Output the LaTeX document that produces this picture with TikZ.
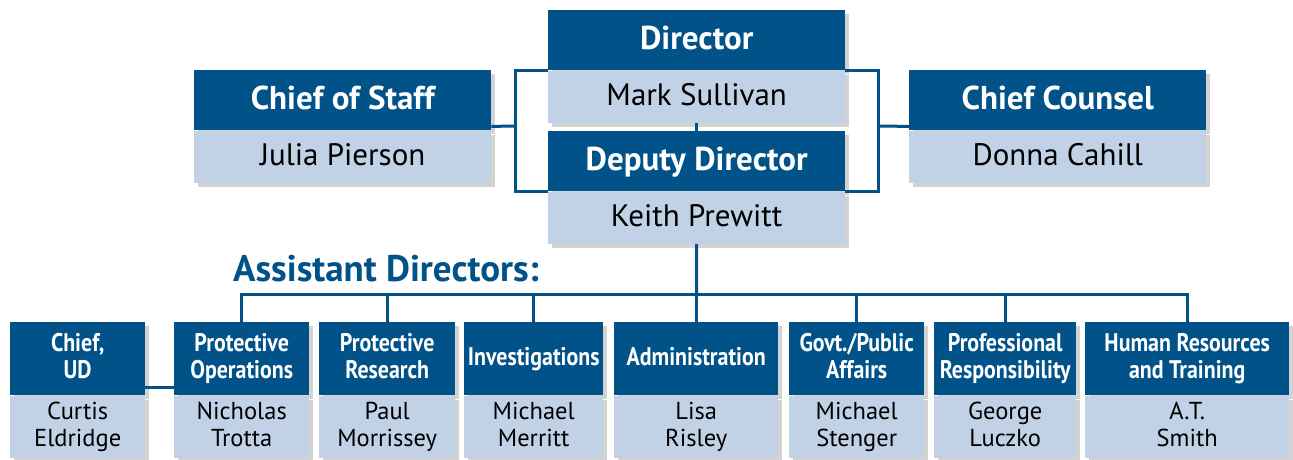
\documentclass[tikz,border=0pt]{standalone}
\usepackage{fontspec}
\setmainfont{PT Sans}
\newfontfamily\narrowfont[FakeStretch=0.86]{PT Sans}
\usetikzlibrary{shadows}
\definecolor{hdblue}{RGB}{0,82,136}
\definecolor{nmblue}{RGB}{194,210,230}
\newcommand{\boxstrut}{\rule[-0.18\baselineskip]{0pt}{0.9\baselineskip}}

\begin{document}
\begin{tikzpicture}[x=1pt,y=-1pt,
  boxshadow/.style={drop shadow={shadow xshift=4pt,shadow yshift=-4pt,opacity=0.35}},
  boxtext/.style={inner sep=0pt,align=center,anchor=north west,
    execute at begin node=\boxstrut,execute at end node=\boxstrut,boxshadow},
  tophead/.style={boxtext,fill=hdblue,text=white,
    minimum width=297pt,minimum height=60pt,font=\bfseries\fontsize{33}{36}\selectfont},
  topname/.style={boxtext,fill=nmblue,text=black,
    minimum width=297pt,minimum height=52pt,font=\fontsize{31}{34}\selectfont},
  adhead/.style={boxtext,fill=hdblue,text=white,
    minimum height=73pt,font=\narrowfont\bfseries\fontsize{25.5}{27}\selectfont},
  adname/.style={boxtext,fill=nmblue,text=black,
    minimum height=62pt,font=\fontsize{24.5}{27}\selectfont},
  link/.style={draw=hdblue,line width=3pt}]
\useasboundingbox (0,0) rectangle (1293,459);

% top tier
\node[tophead] (dirh) at (548,10) {Director};
\node[topname] (dir) at (dirh.south west) {Mark Sullivan};
\node[tophead] (deph) at (548,131) {Deputy Director};
\node[topname] (dep) at (deph.south west) {Keith Prewitt};
\node[tophead] (cosh) at (194,70) {Chief of Staff};
\node[topname] (cos) at (cosh.south west) {Julia Pierson};
\node[tophead] (cch) at (909,70) {Chief Counsel};
\node[topname] (cc) at (cch.south west) {Donna Cahill};

\coordinate (lbr) at (515,126);
\coordinate (rbr) at (878,126);
\draw[link] (dir.south) -- (deph.north);
\draw[link] (dirh.south west) -| (lbr) |- (deph.south west);
\draw[link] (dirh.south east) -| (rbr) |- (deph.south east);
\draw[link] ([yshift=4pt]cosh.south east) -- (lbr);
\draw[link] (rbr) -- ([yshift=4pt]cch.south west);

\node[anchor=base west,text=hdblue,inner sep=0pt,font=\bfseries\fontsize{37}{40}\selectfont] (adlabel) at (233,281) {Assistant Directors:};

% assistant directors
\node[adhead,minimum width=135pt] (udh) at (10,322) {Chief,\\UD};
\node[adname,minimum width=135pt] (ud) at (udh.south west) {Curtis\\Eldridge};
\node[adhead,minimum width=135pt] (poh) at (174,322) {Protective\\Operations};
\node[adname,minimum width=135pt] (po) at (poh.south west) {Nicholas\\Trotta};
\node[adhead,minimum width=136pt] (prh) at (319,322) {Protective\\Research};
\node[adname,minimum width=136pt] (pr) at (prh.south west) {Paul\\Morrissey};
\node[adhead,minimum width=139pt] (invh) at (464,322) {Investigations};
\node[adname,minimum width=139pt] (inv) at (invh.south west) {Michael\\Merritt};
\node[adhead,minimum width=164pt] (admh) at (614,322) {Administration};
\node[adname,minimum width=164pt] (adm) at (admh.south west) {Lisa\\Risley};
\node[adhead,minimum width=135pt] (gpah) at (789,322) {Govt./Public\\Affairs};
\node[adname,minimum width=135pt] (gpa) at (gpah.south west) {Michael\\Stenger};
\node[adhead,minimum width=142pt] (oprh) at (934,322) {Professional\\Responsibility};
\node[adname,minimum width=142pt] (opr) at (oprh.south west) {George\\Luczko};
\node[adhead,minimum width=204pt] (hrh) at (1085,322) {Human Resources\\and Training};
\node[adname,minimum width=204pt] (hr) at (hrh.south west) {A.T.\\Smith};

\coordinate (bus) at (696.5,294);
\draw[link] (dep.south) -- (bus);
\foreach \n in {poh,prh,invh,admh,gpah,oprh,hrh}
  \draw[link] (\n.north) |- (bus);
\draw[link] ([yshift=8pt]udh.south east) -- ([yshift=8pt]poh.south west);
\end{tikzpicture}
\end{document}
